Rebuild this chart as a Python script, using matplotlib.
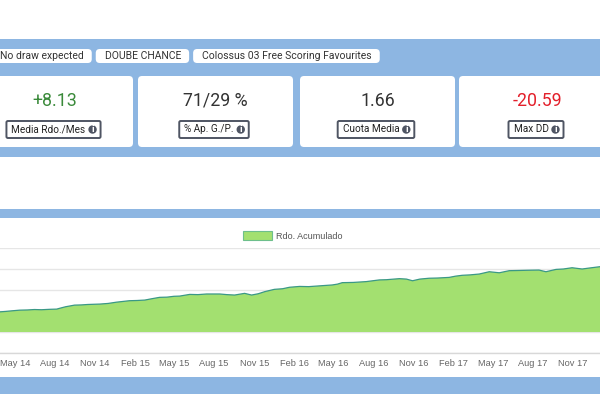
import matplotlib
matplotlib.use('Agg')
import matplotlib.pyplot as plt
import matplotlib.dates as mdates
from matplotlib.patches import FancyBboxPatch, Rectangle, Circle, Patch
import pandas as pd

# --- data ---
tags = ['No draw expected', 'DOUBE CHANCE', 'Colossus 03 Free Scoring Favourites']
card_values = ['+8.13', '71/29 %', '1.66', '-20.59']
card_labels = ['Media Rdo./Mes', '% Ap. G./P.', 'Cuota Media', 'Max DD']
series_name = 'Rdo. Acumulado'

dates = ['2014-03-28', '2014-04-10', '2014-04-25', '2014-05-12', '2014-05-30',
         '2014-06-15', '2014-07-01', '2014-07-20', '2014-08-05', '2014-08-12',
         '2014-08-25', '2014-09-15', '2014-10-01', '2014-10-15', '2014-11-12',
         '2014-12-01', '2014-12-20', '2015-01-19', '2015-02-05', '2015-02-23',
         '2015-03-10', '2015-03-29', '2015-04-15', '2015-05-01', '2015-05-14',
         '2015-06-06', '2015-06-25', '2015-07-15', '2015-08-14', '2015-08-30',
         '2015-09-17', '2015-10-10', '2015-10-26', '2015-11-10', '2015-11-25',
         '2015-12-17', '2016-01-05', '2016-01-21', '2016-02-13', '2016-03-05',
         '2016-03-25', '2016-04-28', '2016-05-10', '2016-05-21', '2016-06-15',
         '2016-07-15', '2016-08-14', '2016-08-30', '2016-09-29', '2016-10-15',
         '2016-10-29', '2016-11-15', '2016-12-06', '2016-12-25', '2017-01-21',
         '2017-02-05', '2017-02-20', '2017-03-10', '2017-03-31', '2017-04-23',
         '2017-05-16', '2017-06-08', '2017-07-01', '2017-07-20', '2017-08-15',
         '2017-08-31', '2017-09-23', '2017-10-10', '2017-10-30', '2017-11-22',
         '2017-12-10', '2018-01-02']
rdo = [48, 49, 50.5, 52, 52.5,
       53.5, 53, 54, 54.5, 56.5,
       60, 64, 64.5, 65.5, 66.5,
       68, 71, 74.5, 75, 76,
       79, 82.5, 83, 85, 85.5,
       89.5, 89, 90.5, 90.5, 89,
       88, 92, 88, 91, 96,
       101.5, 103, 106.5, 108.5, 108,
       109.5, 112, 114, 117.5, 118,
       120, 124, 124.5, 127, 126,
       122, 126, 128, 128.5, 130,
       133, 135, 136, 138, 143.5,
       141, 146, 146.5, 147, 147.5,
       143.5, 149, 150, 153, 150,
       152.5, 155.5]

BLUE = '#8db6e2'
GREEN = '#a3e070'
LINE = '#3a9886'
DARK = '#4f5563'

fig = plt.figure(figsize=(6, 3.94), dpi=100)
W, H = 600, 394

# page background drawn in pixel coordinates
bg = fig.add_axes([0, 0, 1, 1])
bg.set_xlim(0, W)
bg.set_ylim(H, 0)
bg.axis('off')

bg.add_patch(Rectangle((0, 39), W, 118, fc=BLUE, ec='none'))
bg.add_patch(Rectangle((0, 209), W, 9, fc=BLUE, ec='none'))
bg.add_patch(Rectangle((0, 377), W, 17, fc=BLUE, ec='none'))

renderer = fig.canvas.get_renderer()

def px_box(t):
    bb = t.get_window_extent(renderer)
    return bb.x0, bb.x1

# tag pills: first text starts at the left edge, then 4px gaps
x0 = -9
for tag in tags:
    t = bg.text(x0 + 9, 56, tag, fontsize=7.5, family='Roboto', color='#333333',
                ha='left', va='center', zorder=3)
    a, b = px_box(t)
    pw = (b - a) + 17
    bg.add_patch(FancyBboxPatch((x0, 49), pw, 14,
                                boxstyle='round,pad=0,rounding_size=4',
                                fc='white', ec='none', zorder=2))
    x0 = x0 + pw + 4

# stat cards
card_x = [-23, 138, 300, 459]
card_w = [156, 155, 155, 157]
for x0, w, val, lab in zip(card_x, card_w, card_values, card_labels):
    cx = x0 + w / 2
    bg.add_patch(FancyBboxPatch((x0, 76), w, 71,
                                boxstyle='round,pad=0,rounding_size=4',
                                fc='white', ec='none', zorder=2))
    col = '#3a8a3a' if val.startswith('+') else ('#e3202b' if val.startswith('-') else '#333333')
    bg.text(cx, 100.5, val, fontsize=12.8, family='Roboto', color=col,
            ha='center', va='center', zorder=3)
    t = bg.text(cx - 6.5, 129.5, lab, fontsize=7.2, family='Roboto', color='#222222',
                ha='center', va='center', zorder=4)
    a, b = px_box(t)
    icx = b + 7
    bg.add_patch(Circle((icx, 129.5), 4.2, fc=DARK, ec='none', zorder=4))
    bg.text(icx, 129.8, 'i', fontsize=5.5, family='DejaVu Sans', weight='bold',
            color='white', ha='center', va='center', zorder=5)
    bg.add_patch(FancyBboxPatch((a - 5, 121), (icx + 8) - (a - 5), 17,
                                boxstyle='round,pad=0,rounding_size=1.5',
                                fc='white', ec=DARK, lw=1.4, zorder=3))

# chart
d = pd.to_datetime(dates)
ax = fig.add_axes([0, (H - 353) / H, 1, 105 / H], zorder=2)
ax.patch.set_alpha(0)
ax.fill_between(d, rdo, 0, color=GREEN, lw=0, zorder=2)
ax.plot(d, rdo, color=LINE, lw=0.9, zorder=3)

ax.set_xlim(pd.Timestamp('2014-03-28'), pd.Timestamp('2018-01-02'))
ax.set_ylim(-50, 200)
ax.set_yticks(range(-50, 201, 50))
ax.yaxis.set_tick_params(length=0, labelleft=False)
ax.grid(axis='y', color='#e6e6e6', lw=1, zorder=0)
ax.set_axisbelow(True)
for s in ['left', 'right', 'top']:
    ax.spines[s].set_visible(False)
ax.spines['bottom'].set_color('#d8d8d8')
ax.spines['bottom'].set_linewidth(1)

ax.xaxis.set_major_locator(mdates.MonthLocator(bymonth=[2, 5, 8, 11]))
ax.xaxis.set_major_formatter(mdates.DateFormatter('%b %y'))
ax.tick_params(axis='x', length=0, pad=4.5, labelsize=6.7, labelcolor='#666666')
for lbl in ax.get_xticklabels():
    lbl.set_family('Liberation Sans')

handle = Patch(fc=GREEN, ec='#6dbf8c', lw=0.8)
ax.legend([handle], [series_name], loc='center', bbox_to_anchor=(293 / W, 1 - 236 / H),
          bbox_transform=fig.transFigure, frameon=False, handlelength=3.2,
          handleheight=1.1, handletextpad=0.5,
          prop={'family': 'Liberation Sans', 'size': 6.5}, labelcolor='#555555')

fig.savefig('out.png', dpi=100)
